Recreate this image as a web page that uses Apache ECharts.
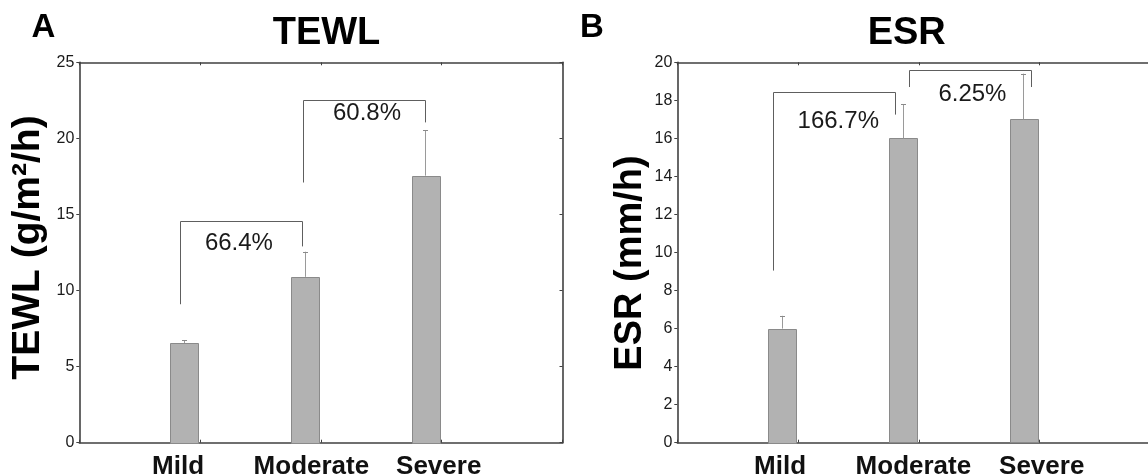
<!DOCTYPE html>
<html><head><meta charset="utf-8">
<script src="https://cdn.jsdelivr.net/npm/echarts@6/dist/echarts.min.js"></script>
<style>html,body{margin:0;padding:0;background:#fff}#c{width:1148px;height:475px}</style>
</head><body><div id="c"></div>
<script>
// ---------- data ----------
const categories = ['Mild', 'Moderate', 'Severe'];
const tewlMean = [6.55, 10.9, 17.55];
const tewlErr = [0.17, 1.65, 3.0];
const esrMean = [6.0, 16.0, 17.0];
const esrErr = [0.67, 1.8, 2.4];
const tewlTicks = [0, 5, 10, 15, 20, 25];
const esrTicks = [0, 2, 4, 6, 8, 10, 12, 14, 16, 18, 20];
// comparison brackets (category index pairs, heights in axis units)
const tewlBracketPairs = [[0, 1], [1, 2]];
const tewlBracketTop = [14.6, 22.55];
const tewlBracketLeftEnd = [9.1, 17.1];
const tewlBracketRightEnd = [12.9, 21.05];
const tewlBracketLabels = ['66.4%', '60.8%'];
const esrBracketPairs = [[0, 1], [1, 2]];
const esrBracketTop = [18.45, 19.57];
const esrBracketLeftEnd = [9.05, 18.7];
const esrBracketRightEnd = [17.25, 18.7];
const esrBracketLabels = ['166.7%', '6.25%'];

// ---------- layout / style ----------
const FONT = "'Liberation Sans', Arial, Helvetica, sans-serif";
const AXIS_COLOR = '#404040';
const BAR_OFFSET = -0.135, BAR_W = 0.228;
const panels = [
  { mean: tewlMean, err: tewlErr, ticks: tewlTicks,
    pairs: tewlBracketPairs, top: tewlBracketTop, le: tewlBracketLeftEnd, re: tewlBracketRightEnd, labels: tewlBracketLabels,
    bx: [[-0.166, -0.158], [-0.146, -0.141]], ldx: [-2, 3], ldy: [23, 14],
    labelShift: [44, 19, 6], grid: { left: 79.3, top: 62.3, width: 483.2, height: 380.4 } },
  { mean: esrMean, err: esrErr, ticks: esrTicks,
    pairs: esrBracketPairs, top: esrBracketTop, le: esrBracketLeftEnd, re: esrBracketRightEnd, labels: esrBracketLabels,
    bx: [[-0.204, -0.197], [-0.081, -0.074]], ldx: [4, 2.5], ldy: [30, 24],
    labelShift: [36, 11, -4], grid: { left: 677.3, top: 62.3, width: 483.2, height: 380.4 } }
];

const chart = echarts.init(document.getElementById('c'), null, { renderer: 'canvas' });

const grids = [], xAxes = [], yAxes = [], series = [];
panels.forEach((p, g) => {
  grids.push(Object.assign({ containLabel: false, outerBoundsMode: 'none' }, p.grid));
  const rich = {};
  p.labelShift.forEach((s, k) => {
    rich['c' + k] = { fontFamily: FONT, fontWeight: 'bold', fontSize: 26, color: '#111',
      padding: s >= 0 ? [0, s, 0, 0] : [0, 0, 0, -s] };
  });
  const lineStyle = { color: AXIS_COLOR, width: 1.6 };
  xAxes.push({ gridIndex: g, type: 'value', min: 0, max: categories.length + 1, interval: 1, position: 'bottom',
    axisLine: { show: true, onZero: false, lineStyle }, splitLine: { show: false },
    axisTick: { show: true, inside: true, length: 3, lineStyle: { color: AXIS_COLOR, width: 1 } },
    axisLabel: { show: true, margin: 11, showMinLabel: true, showMaxLabel: true,
      formatter: v => { const k = Math.round(v) - 1; return categories[k] ? '{c' + k + '|' + categories[k] + '}' : ''; },
      rich } });
  xAxes.push({ gridIndex: g, type: 'value', min: 0, max: categories.length + 1, interval: 1, position: 'top',
    axisLine: { show: true, onZero: false, lineStyle }, splitLine: { show: false },
    axisTick: { show: true, inside: true, length: 3, lineStyle: { color: AXIS_COLOR, width: 1 } },
    axisLabel: { show: false } });
  const t = p.ticks;
  yAxes.push({ gridIndex: g, type: 'value', min: t[0], max: t[t.length - 1], interval: t[1] - t[0], position: 'left',
    axisLine: { show: true, onZero: false, lineStyle }, splitLine: { show: false },
    axisTick: { show: true, inside: false, length: 3, lineStyle: { color: AXIS_COLOR, width: 1 } },
    axisLabel: { margin: 5, fontFamily: FONT, fontSize: 16, color: '#1a1a1a' } });
  yAxes.push({ gridIndex: g, type: 'value', min: t[0], max: t[t.length - 1], interval: t[1] - t[0], position: 'right',
    axisLine: { show: true, onZero: false, lineStyle }, splitLine: { show: false },
    axisTick: { show: true, inside: true, length: 3, lineStyle: { color: AXIS_COLOR, width: 1 } },
    axisLabel: { show: false } });

  // bars with one-sided error bars
  series.push({
    type: 'custom', xAxisIndex: g * 2, yAxisIndex: g * 2, clip: false,
    data: p.mean.map((m, i) => [i, m, p.err[i]]),
    renderItem: (params, api) => {
      const i = api.value(0), m = api.value(1), e = api.value(2);
      const x = i + 1 + BAR_OFFSET;
      const a = api.coord([x - BAR_W / 2, 0]);
      const b = api.coord([x + BAR_W / 2, m]);
      const c = api.coord([x, m]);
      const d = api.coord([x, m + e]);
      const cx = Math.round(c[0]) + 0.5;
      return { type: 'group', children: [
        { type: 'rect', shape: { x: Math.round(a[0]) + 0.5, y: Math.round(b[1]) + 0.5, width: Math.round(b[0] - a[0]), height: Math.round(a[1] - b[1]) },
          style: { fill: '#b2b2b2', stroke: '#8a8a8a', lineWidth: 1 } },
        { type: 'line', shape: { x1: cx, y1: c[1], x2: cx, y2: d[1] }, style: { stroke: '#9a9a9a', lineWidth: 1 } },
        { type: 'line', shape: { x1: cx - 2.5, y1: Math.round(d[1]) + 0.5, x2: cx + 2.5, y2: Math.round(d[1]) + 0.5 }, style: { stroke: '#8a8a8a', lineWidth: 1 } }
      ] };
    },
    z: 3
  });

  // comparison brackets with percentage labels
  series.push({
    type: 'custom', xAxisIndex: g * 2, yAxisIndex: g * 2, clip: false,
    data: p.pairs.map((pr, k) => [k]),
    renderItem: (params, api) => {
      const k = api.value(0);
      const pr = p.pairs[k];
      const xl = pr[0] + 1 + p.bx[k][0], xr = pr[1] + 1 + p.bx[k][1];
      const p1 = api.coord([xl, p.le[k]]), p2 = api.coord([xl, p.top[k]]);
      const p3 = api.coord([xr, p.top[k]]), p4 = api.coord([xr, p.re[k]]);
      const r = v => Math.round(v) + 0.5;
      return { type: 'group', children: [
        { type: 'polyline', shape: { points: [[r(p1[0]), p1[1]], [r(p2[0]), r(p2[1])], [r(p3[0]), r(p3[1])], [r(p4[0]), p4[1]]] },
          style: { stroke: '#5e5e5e', lineWidth: 1, fill: null } },
        { type: 'text', x: (p2[0] + p3[0]) / 2 + p.ldx[k], y: p2[1] + p.ldy[k],
          style: { text: p.labels[k], fontFamily: FONT, fontSize: 24, fill: '#1a1a1a', align: 'center', verticalAlign: 'middle' } }
      ] };
    },
    z: 4
  });
});

const txt = (text, x, y, size, rot) => ({
  type: 'text', x, y, rotation: rot || 0,
  style: { text, fontFamily: FONT, fontWeight: 'bold', fontSize: size, fill: '#000', align: 'center', verticalAlign: 'middle' }
});

chart.setOption({
  animation: false,
  backgroundColor: '#fff',
  grid: grids, xAxis: xAxes, yAxis: yAxes, series,
  graphic: [
    txt('A', 43.3, 27.5, 33),
    txt('B', 592, 27.5, 33),
    txt('TEWL', 326.5, 33.5, 38),
    txt('ESR', 906.7, 33.5, 38),
    txt('TEWL (g/m²/h)', 28, 247.5, 39, Math.PI / 2),
    txt('ESR (mm/h)', 631, 263, 38, Math.PI / 2)
  ]
});
</script></body></html>
